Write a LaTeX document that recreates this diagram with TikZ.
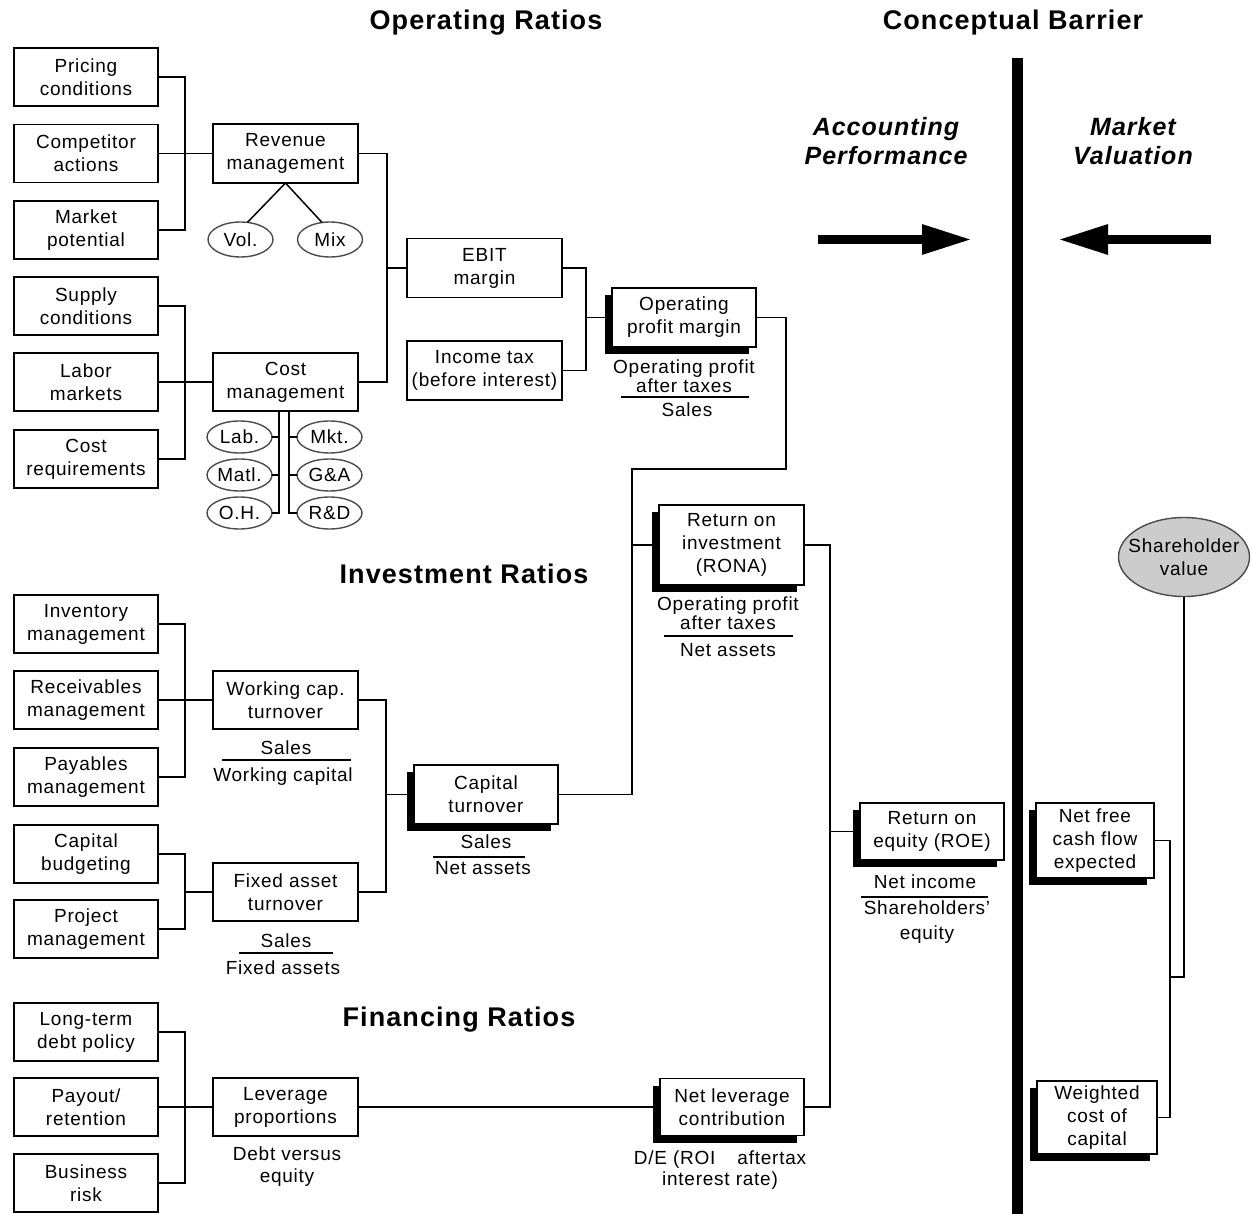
\documentclass[tikz,border=0pt]{standalone}
\usepackage{fontspec}
\setmainfont{Liberation Sans}[LetterSpace=4]
\usetikzlibrary{shadows,arrows.meta,shapes.geometric}
\begin{document}
\begin{tikzpicture}[x=1pt,y=-1pt,
  every node/.style={inner sep=0pt,outer sep=0pt},
  txt/.style={font=\fontsize{19}{23}\selectfont,align=center},
  tight/.style={font=\fontsize{19}{17}\selectfont,align=center},
  box/.style={txt,draw,line width=1.5pt,fill=white,minimum width=144pt,minimum height=58pt},
  sbox/.style={box,drop shadow={shadow xshift=-7pt,shadow yshift=-7pt,fill=black,opacity=1}},
  oval/.style={ellipse,draw=black!70,line width=1.4pt,fill=white,minimum width=65pt,minimum height=32pt,font=\fontsize{19}{23}\selectfont},
  head/.style={font=\fontsize{27}{29}\selectfont\bfseries},
  ihead/.style={font=\fontsize{25}{29}\selectfont\bfseries\itshape,align=center},
  conn/.style={line width=1.5pt},
  rule/.style={line width=1.3pt},
  bigarrow/.style={line width=9pt,-{Triangle[length=50pt,width=28pt]}}
]
\useasboundingbox (0,0) rectangle (1251,1214);

% headings
\node[head] (h1) at (486,23) {Operating Ratios};
\node[head] (h2) at (1013,23) {Conceptual Barrier};
\node[ihead] (h3) at (886,141) {Accounting\\Performance};
\node[ihead] (h4) at (1133,141) {Market\\Valuation};
\node[head] (h5) at (464,574) {Investment Ratios};
\node[head] (h6) at (459,1020) {Financing Ratios};

% barrier and arrows
\coordinate (bt) at (1017,58);
\coordinate (bb) at (1017,1214);
\draw[line width=11pt] (bt) -- (bb);
\coordinate (a1s) at (818,239.5);
\coordinate (a1e) at (972,239.5);
\coordinate (a2s) at (1211,239.5);
\coordinate (a2e) at (1058,239.5);
\draw[bigarrow] (a1s) -- (a1e);
\draw[bigarrow] (a2s) -- (a2e);

% left column
\node[box] (pricing) at (86,77) {Pricing\\conditions};
\node[box] (competitor) at (86,153.5) {Competitor\\actions};
\node[box] (market) at (86,230) {Market\\potential};
\node[box] (supply) at (86,306) {Supply\\conditions};
\node[box] (labor) at (86,382) {Labor\\markets};
\node[box] (costreq) at (86,459) {Cost\\requirements};
\node[box] (inventory) at (86,624) {Inventory\\management};
\node[box] (receivables) at (86,700) {Receivables\\management};
\node[box] (payables) at (86,777) {Payables\\management};
\node[box] (capbudget) at (86,854) {Capital\\budgeting};
\node[box] (project) at (86,929) {Project\\management};
\node[box] (longterm) at (86,1032) {Long-term\\debt policy};
\node[box] (payout) at (86,1107) {Payout/\\retention};
\node[box] (business) at (86,1183) {Business\\risk};

% second column
\node[box,minimum width=145pt,minimum height=59pt] (revenue) at (285.5,153.5) {Revenue\\management};
\node[box,minimum width=145pt] (cost) at (285.5,382) {Cost\\management};
\node[box,minimum width=145pt] (wc) at (285.5,700) {Working cap.\\turnover};
\node[box,minimum width=145pt] (fa) at (285.5,892) {Fixed asset\\turnover};
\node[box,minimum width=145pt] (leverage) at (285.5,1107) {Leverage\\proportions};

% ellipses
\node[oval,minimum height=35pt] (vol) at (240.5,239.5) {Vol.};
\node[oval,minimum height=35pt] (mix) at (330,239.5) {Mix};
\node[oval] (lab) at (239.5,437) {Lab.};
\node[oval] (matl) at (239.5,475) {Matl.};
\node[oval] (oh) at (239.5,513) {O.H.};
\node[oval] (mkt) at (329.5,437) {Mkt.};
\node[oval] (ga) at (329.5,475) {G\&A};
\node[oval] (rd) at (329.5,513) {R\&D};

% middle
\node[box,minimum width=155pt,minimum height=59pt] (ebit) at (484.5,268) {EBIT\\margin};
\node[box,minimum width=155pt,minimum height=59pt] (tax) at (484.5,370.5) {Income tax\\(before interest)};
\node[sbox,minimum height=59pt] (opm) at (684,317.5) {Operating\\profit margin};
\node[sbox,minimum height=59pt] (capturn) at (486,794.5) {Capital\\turnover};
\node[sbox,minimum width=145pt,minimum height=80pt] (roi) at (731.5,545) {Return on\\investment\\(RONA)};
\node[sbox,minimum height=57pt] (roe) at (932,831.5) {Return on\\equity (ROE)};
\node[sbox,minimum height=57pt] (netlev) at (732,1107) {Net leverage\\contribution};

% right side
\node[sbox,minimum width=118pt,minimum height=75pt] (nfcf) at (1095,840.5) {Net free\\cash flow\\expected};
\node[sbox,minimum width=120pt,minimum height=73pt] (wacc) at (1097,1117.5) {Weighted\\cost of\\capital};
\node[ellipse,draw=black!70,line width=1.4pt,fill=black!20,minimum width=131pt,minimum height=79pt,inner xsep=-12pt,txt] (sv) at (1184,557) {Shareholder\\value};

% ratio labels
\node[tight] (opml1) at (684,376) {Operating profit\\after taxes};
\draw[rule] (621,397) -- (749,397);
\node[txt] (opml2) at (687,410) {Sales};

\node[tight] (roil1) at (728,613) {Operating profit\\after taxes};
\draw[rule] (664,636) -- (793,636);
\node[txt] (roil2) at (728,650) {Net assets};

\node[txt] (ctl1) at (486,842) {Sales};
\draw[rule] (433,857) -- (525,857);
\node[txt] (ctl2) at (483,868) {Net assets};

\node[txt] (wcl1) at (286,748) {Sales};
\draw[rule] (222,760) -- (351,760);
\node[txt] (wcl2) at (283,777) {Working capital};

\node[txt] (fal1) at (286,941) {Sales};
\draw[rule] (239,953) -- (333,953);
\node[txt] (fal2) at (283,968) {Fixed assets};

\node[txt] (roel1) at (925,882) {Net income};
\draw[rule] (861,897) -- (988,897);
\node[font=\fontsize{19}{25}\selectfont,align=center] (roel2) at (927,922) {Shareholders'\\equity};

\node[font=\fontsize{19}{22}\selectfont,align=center] (levl) at (287,1167) {Debt versus\\equity};
\node[font=\fontsize{19}{21}\selectfont,align=center] (nll) at (720,1170) {D/E (ROI\hspace{22pt}aftertax\\interest rate)};

% connectors
\coordinate (b1) at (185,153.5);
\draw[conn] (pricing.east) -| (b1) |- (market.east);
\draw[conn] (competitor.east) -- (revenue.west);

\coordinate (b2) at (387,268);
\draw[conn] (revenue.east) -| (b2) |- (cost.east);
\draw[conn] (b2) -- (ebit.west);

\draw[conn] (revenue.south) -- (vol.68);
\draw[conn] (revenue.south) -- (mix.115);

\coordinate (b3) at (185,382);
\draw[conn] (supply.east) -| (b3) |- (costreq.east);
\draw[conn] (labor.east) -- (cost.west);

\coordinate (cl) at (279,411);
\coordinate (cr) at (289,411);
\draw[conn] (cl) |- (oh.east);
\draw[conn] (lab.east) -- (lab.east -| cl);
\draw[conn] (matl.east) -- (matl.east -| cl);
\draw[conn] (cr) |- (rd.west);
\draw[conn] (mkt.west) -- (mkt.west -| cr);
\draw[conn] (ga.west) -- (ga.west -| cr);

\coordinate (b4) at (586,317.5);
\draw[conn] (ebit.east) -| (b4) |- (tax.east);
\draw[conn] (b4) -- (opm.west);

\coordinate (c1) at (786,469);
\coordinate (b5) at (632,545);
\draw[conn] (opm.east) -| (c1) -| (b5) |- (capturn.east);
\draw[conn] (b5) -- (roi.west);

\coordinate (b6) at (386,794.5);
\draw[conn] (wc.east) -| (b6) |- (fa.east);
\draw[conn] (b6) -- (capturn.west);

\coordinate (b7) at (185,700);
\draw[conn] (inventory.east) -| (b7) |- (payables.east);
\draw[conn] (receivables.east) -- (wc.west);

\coordinate (b8) at (185,892);
\draw[conn] (capbudget.east) -| (b8) |- (project.east);
\draw[conn] (b8) -- (fa.west);

\coordinate (b9) at (185,1107);
\draw[conn] (longterm.east) -| (b9) |- (business.east);
\draw[conn] (payout.east) -- (leverage.west);

\draw[conn] (leverage.east) -- (netlev.west);

\coordinate (b10) at (830,831.5);
\draw[conn] (roi.east) -| (b10) |- (netlev.east);
\draw[conn] (b10) -- (roe.west);

\coordinate (b11) at (1170,977);
\draw[conn] (nfcf.east) -| (b11) |- (wacc.east);
\draw[conn] (sv.south) |- (b11);
\end{tikzpicture}
\end{document}
